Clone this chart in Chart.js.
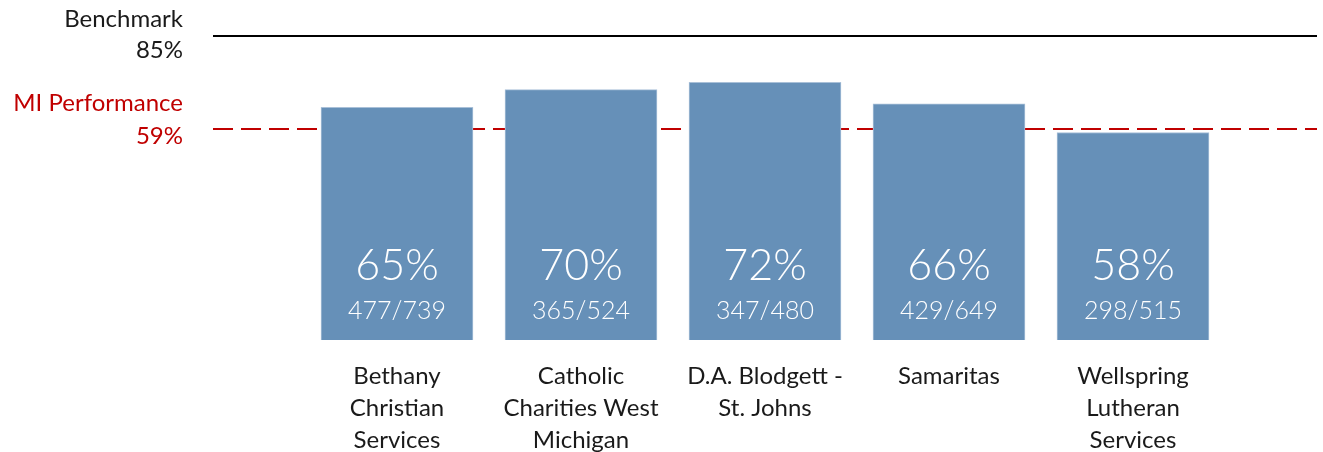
<!DOCTYPE html>
<html>
<head>
<meta charset="utf-8">
<script src="https://cdn.jsdelivr.net/npm/chart.js@4/dist/chart.umd.min.js"></script>
<style>
html,body{margin:0;padding:0;background:#fff;overflow:hidden}
#wrap{width:1323px;height:452px;position:relative}
</style>
</head>
<body>
<div id="wrap"><canvas id="myChart"></canvas></div>
<script>
// categories (empty ends give the half-slot padding the reference lines have)
const categories = ["", ["Bethany","Christian","Services"], ["Catholic","Charities West","Michigan"], ["D.A. Blodgett -","St. Johns"], ["Samaritas"], ["Wellspring","Lutheran","Services"], ""]
const percents = [null, 65, 70, 72, 66, 58, null]
const numerators = [null, 477, 365, 347, 429, 298, null]
const denominators = [null, 739, 524, 480, 649, 515, null]
const benchmark = 85
const miPerformance = 59

const FONT = "Lato, 'Open Sans', sans-serif"

// labels left of the two reference lines + texts inside bars
const textPlugin = {
  id: "texts",
  afterDatasetsDraw(chart){
    let ctx = chart.ctx
    let y = chart.scales.y
    ctx.save()
    ctx.textAlign = "right"
    ctx.textBaseline = "middle"
    ctx.font = "24px " + FONT
    let yb = y.getPixelForValue(benchmark)
    ctx.fillStyle = "#1a1a1a"
    ctx.fillText("Benchmark", 183, yb - 17)
    ctx.fillText(benchmark + "%", 183, yb + 14)
    let ym = y.getPixelForValue(miPerformance)
    ctx.fillStyle = "#c00000"
    ctx.fillText("MI Performance", 183, ym - 26)
    ctx.fillText(miPerformance + "%", 183, ym + 7)

    let meta = chart.getDatasetMeta(0)
    ctx.textAlign = "center"
    ctx.fillStyle = "#ffffff"
    meta.data.forEach((bar, i) => {
      if(percents[i] == null) return
      ctx.font = "300 43px " + FONT
      ctx.fillText(percents[i] + "%", bar.x, chart.chartArea.bottom - 74)
      ctx.font = "300 25px " + FONT
      ctx.fillText(numerators[i] + "/" + denominators[i], bar.x, chart.chartArea.bottom - 29)
    })
    ctx.restore()
  }
}

new Chart("myChart", {
  type: "bar",
  data: {
    labels: categories,
    datasets: [{
      type: "bar",
      data: percents,
      backgroundColor: "#6690b8",
      borderColor: "#a9c0d8",
      borderWidth: 1,
      barThickness: 152,
      order: 1
    },{
      type: "line",
      data: categories.map(() => benchmark),
      borderColor: "#000000",
      borderWidth: 2,
      pointRadius: 0,
      order: 2
    },{
      type: "line",
      data: categories.map(() => miPerformance),
      borderColor: "#c00000",
      borderWidth: 2,
      borderDash: [20, 8],
      pointRadius: 0,
      order: 2
    }]
  },
  options: {
    responsive: true,
    maintainAspectRatio: false,
    animation: false,
    layout: { padding: { left: 213, right: 6, top: 18, bottom: 0 } },
    plugins: { legend: { display: false }, tooltip: { enabled: false } },
    scales: {
      x: {
        offset: false,
        grid: { display: false },
        border: { display: false },
        ticks: { color: "#1a1a1a", font: { family: FONT, size: 24, lineHeight: 1.33 }, padding: 12, maxRotation: 0, autoSkip: false },
        afterFit(s){ s.height = 112; s.paddingLeft = 0; s.paddingRight = 0 }
      },
      y: {
        display: false,
        min: 0,
        max: 90
      }
    }
  },
  plugins: [textPlugin]
})
</script>
</body>
</html>
